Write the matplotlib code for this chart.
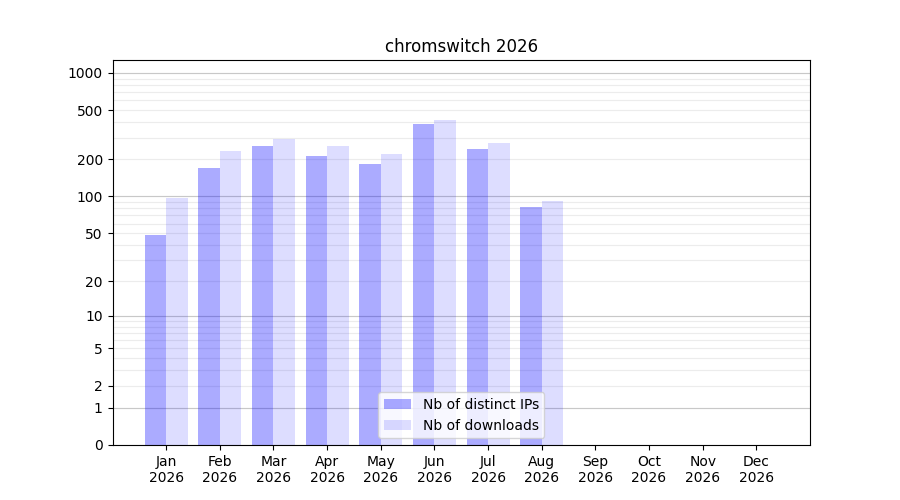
import matplotlib
matplotlib.use("Agg")
import matplotlib.pyplot as plt
import numpy as np

# Data
months = ["Jan", "Feb", "Mar", "Apr", "May", "Jun", "Jul", "Aug", "Sep", "Oct", "Nov", "Dec"]
year = "2026"
distinct_ips = [48, 171, 257, 213, 184, 387, 243, 82]
downloads = [97, 234, 293, 257, 221, 417, 272, 92]
ytick_vals = [0, 1, 2, 5, 10, 20, 50, 100, 200, 500, 1000]

fig, ax = plt.subplots(figsize=(9, 5), dpi=100)

# log10(1+y) skala
ax.set_yscale("function", functions=(lambda y: np.log10(1 + np.clip(y, 0, None)),
                                     lambda y: 10 ** y - 1))

x_ips = np.arange(len(distinct_ips))
x_dl = np.arange(len(downloads))
ax.bar(x_ips, distinct_ips, width=-0.4, align="edge", color="blue", alpha=0.33,
       label="Nb of distinct IPs", zorder=2)
ax.bar(x_dl, downloads, width=0.4, align="edge", color="blue", alpha=0.135,
       label="Nb of downloads", zorder=2)

ax.set_xlim(-1, 12)
ax.set_xticks(np.arange(len(months)))
ax.set_xticklabels([f"{m}\n{year}" for m in months])

ax.set_ylim(0, 1270)
ax.set_yticks(ytick_vals)
ax.set_yticklabels([str(v) for v in ytick_vals])
minor = [m * 10 ** k for k in range(0, 4) for m in range(1, 10) if m * 10 ** k <= 1270]
minor = [v for v in minor if v not in ytick_vals]
ax.set_yticks(minor, minor=True)
ax.tick_params(axis="y", which="minor", length=0)
ax.grid(True, axis="y", which="both", color="#ececec", linewidth=0.8, zorder=0)
for v in [1, 10, 100, 1000]:
    ax.axhline(v, color="#c8c8c8", linewidth=0.8, zorder=1)
ax.set_axisbelow(True)

ax.set_title(f"chromswitch {year}")
ax.legend(loc="lower center")

fig.savefig("out.png")
